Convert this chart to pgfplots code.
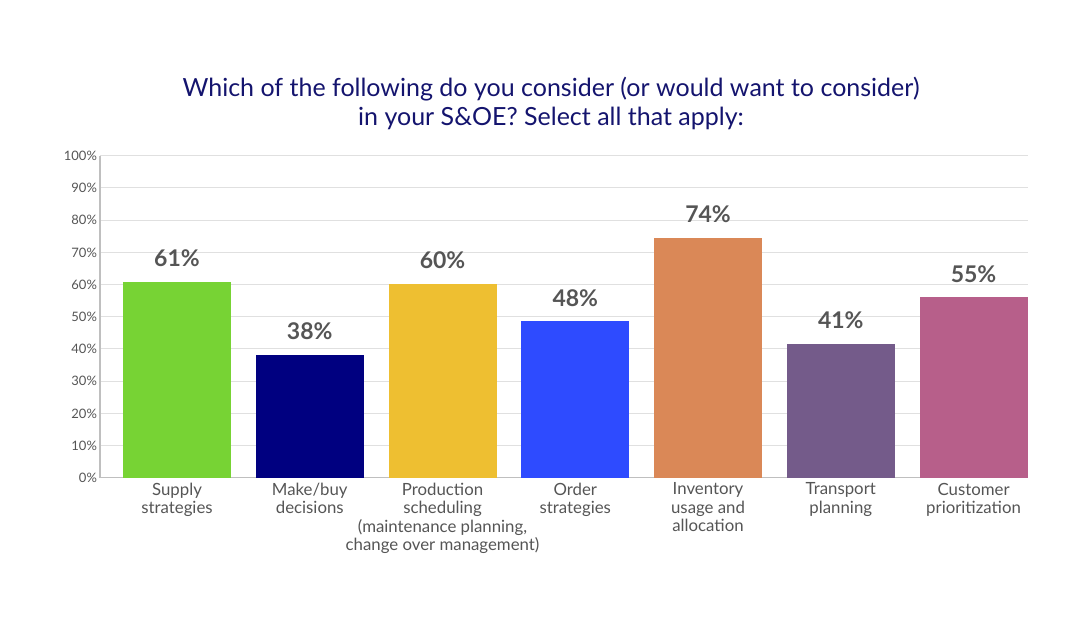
\documentclass[border=0pt]{standalone}
\usepackage{pgfplots}
\pgfplotsset{compat=1.18}
\usepackage{fontspec}
\setmainfont{Lato}
\definecolor{titleblue}{HTML}{14146E}
\definecolor{txtgray}{HTML}{555555}
\definecolor{c1}{HTML}{77D334}
\definecolor{c2}{HTML}{000080}
\definecolor{c3}{HTML}{EEBF31}
\definecolor{c4}{HTML}{2E4BFF}
\definecolor{c5}{HTML}{DA8857}
\definecolor{c6}{HTML}{745B8A}
\definecolor{c7}{HTML}{B75F8A}
\begin{document}
\begin{tikzpicture}
\begin{axis}[
    scale only axis,
    width=464pt, height=161pt,
    ybar, bar width=54pt, bar shift=0pt,
    ymin=0, ymax=100,
    xmin=-0.58, xmax=6.41,
    ytick={0,10,...,100},
    yticklabel={\pgfmathprintnumber{\tick}\%},
    /pgf/number format/assume math mode=true,
    yticklabel style={font=\fontsize{6.5}{7}\selectfont, text=txtgray, xshift=2pt},
    xtick={0,...,6},
    xticklabels={{Supply\\strategies},{Make/buy\\decisions},{Production\\scheduling\\(maintenance planning,\\change over management)},{Order\\strategies},{Inventory\\usage and\\allocation},{Transport\\planning},{Customer\\prioritization}},
    xticklabel style={align=center, font=\fontsize{8.4}{9.2}\selectfont, text=txtgray, yshift=1pt},
    major tick length=0pt,
    ymajorgrids, grid style={draw=black!12, line width=0.5pt},
    axis x line*=bottom, axis y line*=left,
    axis line style={draw=black!25, line width=0.6pt},
    clip=false,
    point meta=explicit symbolic,
    nodes near coords={\pgfplotspointmeta\%},
    every node near coord/.append style={font=\fontsize{11.5}{13}\selectfont\bfseries, text=txtgray, yshift=4pt},
]
\addplot[fill=c1, draw=none] coordinates {(0,60.9) [61]};
\addplot[fill=c2, draw=none] coordinates {(1,38.2) [38]};
\addplot[fill=c3, draw=none] coordinates {(2,60.2) [60]};
\addplot[fill=c4, draw=none] coordinates {(3,48.6) [48]};
\addplot[fill=c5, draw=none] coordinates {(4,74.5) [74]};
\addplot[fill=c6, draw=none] coordinates {(5,41.6) [41]};
\addplot[fill=c7, draw=none] coordinates {(6,56.0) [55]};
\node[align=center, text=titleblue, font=\fontsize{12.5}{14.5}\selectfont, anchor=center]
  at ([xshift=-6.5pt, yshift=26pt]rel axis cs:0.5,1)
  {Which of the following do you consider (or would want to consider)\\in your S\&OE? Select all that apply:};
\coordinate (ll) at (rel axis cs:0,0);
\coordinate (ur) at (rel axis cs:1,1);
\end{axis}
\path[use as bounding box] ([xshift=-50pt, yshift=-76.6pt]ll) rectangle ([xshift=29.5pt, yshift=77.9pt]ur);
\end{tikzpicture}
\end{document}
